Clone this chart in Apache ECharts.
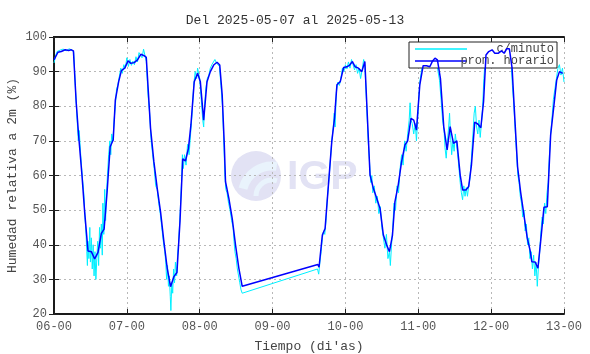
<!DOCTYPE html>
<html>
<head>
<meta charset="utf-8">
<script src="https://cdn.jsdelivr.net/npm/echarts@6/dist/echarts.min.js"></script>
<style>
  html, body { margin: 0; padding: 0; background: #fff; }
  #hr-chart { width: 590px; height: 354px; }
</style>
</head>
<body>
<div id="hr-chart"></div>
<script>
// horas desde 2025-05-06 00:00
var dayLabels = ['06-00', '07-00', '08-00', '09-00', '10-00', '11-00', '12-00', '13-00'];

// promedio horario
var hourlyHours = [0, 1.3, 2.4, 3.7, 4.8, 5.7, 6.4, 7.3, 8.1, 9.2, 10.1, 11.2, 12.3, 13.4, 14.5, 15.6, 16.5, 17.5, 18.5, 19.5,
  20.2, 21.3, 22.2, 23.3, 24.4, 25.3, 26.4, 27.5, 28.6, 29.7, 30.4, 31.8, 32.9, 34, 35.1, 36.2, 37.3, 38.4, 39.5, 40.5,
  41.5, 42.4, 43.3, 44.3, 45.1, 46.2, 47.3, 48.2, 49.3, 50.4, 51.5, 52.6, 53.7, 54.6, 55.4, 56.1, 56.5, 57.6, 58.7, 59.8,
  60.9, 62.0, 86.9, 87.3, 88.4, 89.3, 90.4, 91.5, 92.4, 93.2, 94.3, 95.4, 96.5, 97.4, 98.3, 99.2, 100.3, 101.4, 102.4, 103.3,
  104.1, 105.2, 106.3, 107.4, 108.5, 109.6, 110.5, 111.5, 112.3, 113.4, 114.5, 115.6, 116.5, 117.6, 118.5, 119.4, 120.5, 121.6, 122.7, 123.8,
  124.6, 125.5, 126.3, 127.3, 128.4, 129.5, 130.5, 131.6, 132.7, 133.8, 134.6, 135.7, 136.6, 137.5, 138.6, 139.7, 140.6, 141.5, 142.3, 143.2,
  144.3, 145.2, 146.3, 147.4, 148.3, 149.1, 150.0, 150.9, 151.8, 152.7, 153.7, 154.8, 155.9, 156.8, 157.4, 158.5, 159.4, 160.3, 161.4, 162.5,
  163.6, 164.7, 165.6, 166.5, 167.6];
var hourlyRH = [93.4, 95.6, 95.8, 96.3, 96.1, 96.3, 96.0, 81.3, 71.7, 60.2, 49.5, 38.2, 38.0, 35.9, 37.8, 43.3, 44.5, 55.3, 68.3, 70.3,
  81.8, 87.1, 90.3, 91.0, 93.1, 92.4, 92.6, 93.4, 95.0, 94.6, 94.1, 73.6, 64.0, 56.3, 49.5, 40.9, 33.2, 27.9, 30.8, 32.0,
  46.7, 64.8, 64.2, 67.9, 74.6, 87.1, 89.5, 87.1, 76.0, 87.1, 90.0, 91.9, 92.7, 91.9, 83.3, 68.8, 58.2, 53.4, 47.6, 39.9,
  33.2, 28.0, 34.3, 33.5, 42.8, 44.7, 57.3, 69.8, 76.5, 86.2, 87.1, 91.2, 91.4, 91.9, 92.9, 91.4, 91.0, 90.0, 92.9, 75.6,
  60.2, 56.3, 53.4, 50.5, 42.8, 39.9, 38.0, 42.8, 52.4, 57.3, 64.0, 68.8, 70.0, 76.5, 76.0, 73.1, 86.2, 91.7, 91.7, 91.4,
  92.9, 93.9, 93.4, 88.0, 74.0, 67.4, 74.1, 69.3, 70.0, 60.2, 55.8, 55.8, 56.8, 62.9, 75.4, 74.8, 73.8, 81.3, 94.8, 95.8,
  96.3, 95.3, 95.3, 96.0, 95.3, 96.6, 96.6, 91.0, 76.5, 62.6, 55.3, 48.6, 41.9, 38.5, 35.1, 35.0, 33.2, 40.9, 50.8, 51.0,
  71.7, 80.4, 87.6, 90.0, 89.5];

// datos c/minuto (lectura aproximada)
var minuteHours = [0, 0.5, 1, 2, 3, 4, 5, 6, 6.5, 7, 7.5, 8, 8.3, 8.8, 9.3, 9.8, 10.2, 10.5, 10.8, 11, 11.2, 11.5, 11.8, 12, 12.3, 12.6, 12.9,
  13.2, 13.5, 13.8, 14.1, 14.4, 14.7, 15, 15.3, 15.6, 15.9, 16.1, 16.4, 16.7, 17, 17.3, 17.6, 18, 18.4, 18.7, 19, 19.4, 19.8, 20.2, 20.6,
  21, 21.4, 22, 22.5, 23, 23.5, 24, 24.5, 25, 25.5, 26, 26.5, 27, 27.5, 28, 28.5, 29, 29.5, 30, 30.4, 31, 31.5, 32, 32.5, 33, 33.5,
  34, 34.5, 35, 35.5, 36, 36.5, 36.8, 37.1, 37.4, 37.7, 38, 38.3, 38.5, 38.8, 39.1, 39.4, 39.7, 40, 40.4, 40.7, 41, 41.5, 42, 42.3,
  42.6, 43, 43.5, 44, 44.5, 45, 45.5, 46, 46.5, 47, 47.3, 48, 48.5, 49, 49.3, 49.6, 50, 50.5, 51, 51.5, 52, 52.5, 53, 53.5, 54, 54.5,
  55, 55.5, 56, 56.3, 56.6, 57, 57.5, 58, 58.5, 59, 59.3, 59.6, 60, 60.4, 60.8, 61.2, 61.6, 62, 62.3,
  86.8, 87.2, 87.6, 88, 88.4, 88.8, 89.2, 89.6, 90, 90.5, 91, 91.5, 92, 92.3, 92.6, 93, 93.5, 94, 94.5, 95, 95.5, 96, 96.5, 97, 97.5,
  98, 98.5, 99, 99.5, 100, 100.5, 101, 101.5, 102, 102.4, 103, 103.5, 104, 104.3, 104.7, 105, 105.5, 106, 106.5, 107, 107.5, 108,
  108.5, 109, 109.5, 110, 110.5, 110.8, 111.2, 111.6, 112, 112.5, 113, 113.5, 114, 114.5, 115, 115.5, 116, 116.5, 117, 117.3, 117.6,
  118, 118.5, 119, 119.4, 120, 120.5, 121, 121.5, 122, 122.5, 123, 123.5, 124, 124.5, 125, 125.5, 126, 126.5, 127, 127.5, 128, 128.5,
  128.8, 129.2, 129.6, 130, 130.3, 130.6, 131, 131.4, 131.8, 132.2, 132.6, 133, 133.4, 133.8, 134.2, 134.6, 135, 135.4, 135.8, 136.2,
  136.6, 137, 137.5, 138, 138.4, 138.8, 139.2, 139.6, 140, 140.4, 140.8, 141.2, 141.6, 142, 142.5, 143, 143.5, 144, 144.5, 145, 145.5,
  146, 146.5, 147, 147.5, 148, 148.5, 149, 149.5, 150, 150.5, 151, 151.5, 152, 152.4, 152.8, 153.2, 153.6, 154, 154.4, 154.8, 155.2,
  155.6, 156, 156.4, 156.8, 157.2, 157.6, 158, 158.4, 158.8, 159.2, 159.6, 160, 160.4, 160.8, 161.2, 161.6, 162, 162.4, 162.8, 163.2,
  163.6, 164, 164.5, 165, 165.5, 166, 166.5, 167, 167.5, 168];
var minuteRH = [92.5, 94.5, 95.8, 96.2, 96.5, 96.0, 96.6, 96.2, 95.5, 86, 78, 70, 73, 66, 60, 55, 48, 44, 38, 34, 41, 36, 45, 35, 42, 33, 40,
  31, 38, 30, 36, 41, 34, 45, 39, 46, 37, 52, 43, 56, 47, 55, 60, 66, 70, 66, 72, 70, 76, 80, 85,
  86, 88, 91, 89.5, 92, 91, 94, 91.5, 93.5, 91.8, 93, 92, 94.3, 92.8, 95.5, 96, 94, 96.5, 94.5, 93, 83, 78, 70, 66, 62, 57,
  56, 52, 49, 45, 41, 38, 35, 30, 34, 28, 31, 25, 21, 29, 26, 33, 29, 35, 31, 37, 40, 48, 58, 66,
  62, 66, 63, 69, 66, 72, 78, 86, 90, 88, 91, 88, 82, 76, 74, 80, 85, 88, 89, 91, 92, 92.5, 93.5, 92.5, 93, 91.5,
  86, 80, 68, 60, 56, 55, 52, 50, 47, 45, 41, 38, 36, 33, 31, 29, 27, 26, 25.5,
  33, 31.5, 35, 38, 42, 44, 43, 47, 53, 58, 64, 70, 74, 78, 74, 84, 87, 86, 88, 91, 90, 92, 90.8, 92.8, 91,
  93.5, 92, 90.5, 92, 89.5, 91, 88, 90.5, 93.5, 92, 80, 70, 63, 58, 60, 55, 57, 52, 54, 49, 51, 45,
  42, 39, 43, 36, 38, 34, 40, 45, 52, 50, 57, 55, 62, 66, 63, 70, 67, 72, 76, 81, 76,
  75, 72, 75, 70, 80, 87, 90, 92.5, 91, 92.5, 91, 92, 93, 92.5, 94.5, 94, 93, 90, 87.5, 82, 76, 73,
  68, 65, 70, 74, 78, 72, 66, 70, 67, 72, 69, 66, 62, 58, 55, 53, 57, 54, 56.5, 54,
  57, 59, 65, 72, 78, 80, 74, 72, 76, 71, 75, 80, 88, 93, 95.5, 96.5, 95, 96.5, 95.5, 96, 94.5,
  96, 95, 97, 95.5, 94.5, 96.5, 97, 96, 97, 94, 86, 80, 72, 66, 60, 58, 54, 52, 48, 50, 44,
  46, 40, 42, 36, 38, 33, 37, 31, 35, 28, 34, 38, 44, 48, 46, 52, 49, 55, 58, 66,
  72, 76, 82, 85, 88, 91, 92, 89, 91, 87];

function zip(xs, ys) {
  var out = [];
  for (var i = 0; i < xs.length; i++) out.push([xs[i], ys[i]]);
  return out;
}

var mono = '"Liberation Mono", "DejaVu Sans Mono", monospace';
var chart = echarts.init(document.getElementById('hr-chart'));

var frameLine = { lineStyle: { color: '#1a1a1a', width: 2 } };
var inTicks = { inside: true, length: 5, lineStyle: { color: '#222', width: 1 } };
var dotGrid = { show: true, lineStyle: { color: '#b8b8b8', type: [2, 3], width: 1 } };

var option = {
  animation: false,
  backgroundColor: '#fff',
  title: {
    text: 'Del 2025-05-07 al 2025-05-13',
    left: 'center',
    top: 9,
    textStyle: { fontFamily: mono, fontSize: 13, fontWeight: 'normal', color: '#333' }
  },
  legend: {
    orient: 'vertical',
    right: 33,
    top: 42,
    padding: [1, 3, 1, 6],
    itemGap: 0,
    itemWidth: 52,
    itemHeight: 1.5,
    icon: 'rect',
    backgroundColor: '#fff',
    borderColor: '#222',
    borderWidth: 1,
    borderRadius: 0,
    formatter: function (name) { return '{t|' + name + '}'; },
    textStyle: {
      fontFamily: mono, fontSize: 12, color: '#444',
      rich: { t: { fontFamily: mono, fontSize: 12, color: '#444', width: 82, align: 'right', lineHeight: 12 } }
    },
    data: ['c/minuto', 'prom. horario']
  },
  grid: { left: 54, right: 26, top: 37, bottom: 40, outerBoundsMode: 'none', containLabel: false },
  xAxis: [{
    type: 'value',
    min: 0,
    max: 168,
    interval: 24,
    name: 'Tiempo (di\'as)',
    nameLocation: 'middle',
    nameGap: 26,
    nameMoveOverlap: false,
    nameTextStyle: { fontFamily: mono, fontSize: 13, color: '#444' },
    axisLine: frameLine,
    axisTick: inTicks,
    axisLabel: {
      fontFamily: mono, fontSize: 12, color: '#555', margin: 7,
      formatter: function (v) { return dayLabels[Math.round(v / 24)]; }
    },
    splitLine: dotGrid
  }, {
    type: 'value',
    position: 'top',
    min: 0,
    max: 168,
    interval: 24,
    axisLine: frameLine,
    axisTick: inTicks,
    axisLabel: { show: false },
    splitLine: { show: false }
  }],
  yAxis: [{
    type: 'value',
    min: 20,
    max: 100,
    interval: 10,
    name: 'Humedad relativa a 2m (%)',
    nameLocation: 'middle',
    nameGap: 35,
    nameMoveOverlap: false,
    nameTextStyle: { fontFamily: mono, fontSize: 13, color: '#444' },
    axisLine: frameLine,
    axisTick: inTicks,
    axisLabel: { fontFamily: mono, fontSize: 12, color: '#555', margin: 7 },
    splitLine: dotGrid
  }, {
    type: 'value',
    position: 'right',
    min: 20,
    max: 100,
    interval: 10,
    axisLine: frameLine,
    axisTick: inTicks,
    axisLabel: { show: false },
    splitLine: { show: false }
  }],
  graphic: [{
    type: 'group',
    silent: true,
    z: 0,
    children: [
      { type: 'circle', shape: { cx: 256, cy: 176, r: 25 }, style: { fill: '#e2e2f4' } },
      { type: 'arc', shape: { cx: 272, cy: 196, r: 30, startAngle: Math.PI * 1.08, endAngle: Math.PI * 1.55 }, style: { fill: 'none', stroke: '#e9f3fc', lineWidth: 9 } },
      { type: 'arc', shape: { cx: 272, cy: 196, r: 16, startAngle: Math.PI * 1.0, endAngle: Math.PI * 1.6 }, style: { fill: 'none', stroke: '#e9f3fc', lineWidth: 5 } },
      {
        type: 'text', left: 287, top: 157,
        style: { text: 'IGP', fontFamily: '"Liberation Sans", Arial, sans-serif', fontWeight: 'bold', fontSize: 41, fill: '#e2e2f4' }
      }
    ]
  }],
  series: [{
    name: 'c/minuto',
    type: 'line',
    symbol: 'none',
    color: '#00f0ff',
    lineStyle: { width: 1, color: '#00f0ff' },
    data: zip(minuteHours, minuteRH),
    z: 3
  }, {
    name: 'prom. horario',
    type: 'line',
    symbol: 'none',
    color: '#0000ff',
    lineStyle: { width: 1.5, color: '#0000ff' },
    data: zip(hourlyHours, hourlyRH),
    z: 4
  }]
};
chart.setOption(option);
</script>
</body>
</html>
